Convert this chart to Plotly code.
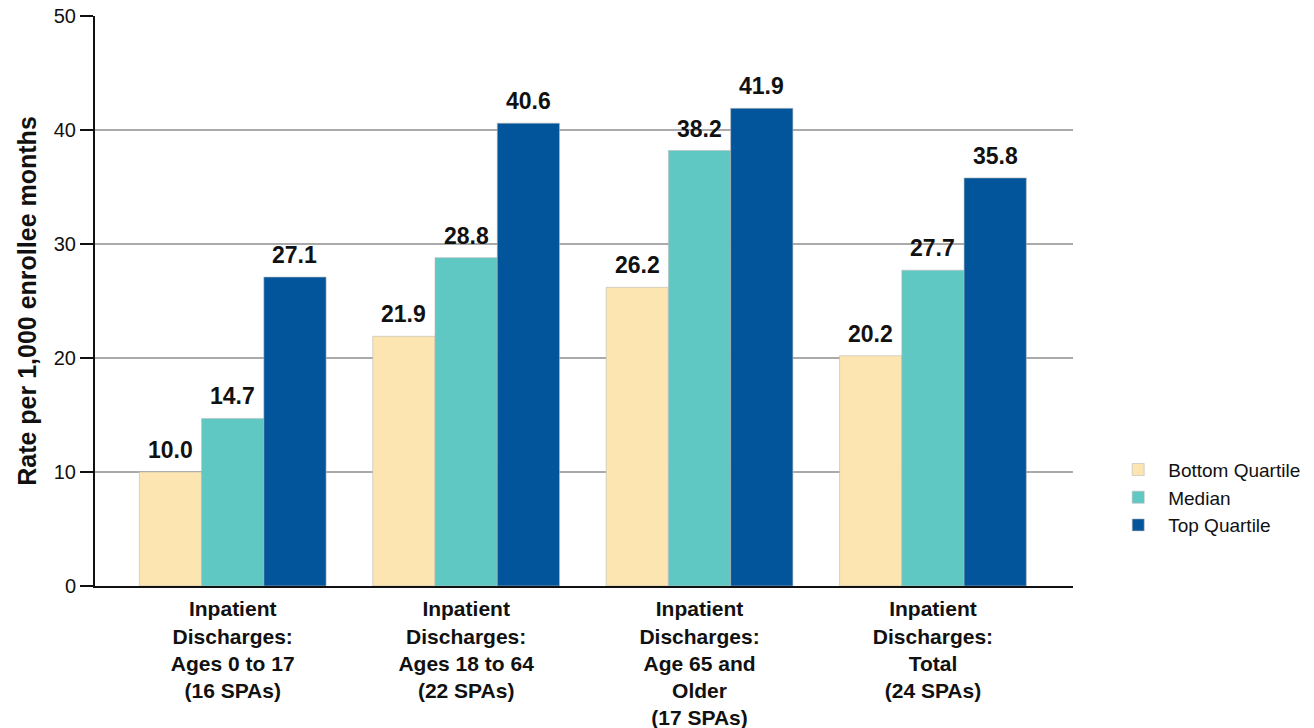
import plotly.graph_objects as go

categories = ["Inpatient<br>Discharges:<br>Ages 0 to 17<br>(16 SPAs)",
              "Inpatient<br>Discharges:<br>Ages 18 to 64<br>(22 SPAs)",
              "Inpatient<br>Discharges:<br>Age 65 and<br>Older<br>(17 SPAs)",
              "Inpatient<br>Discharges:<br>Total<br>(24 SPAs)"]
series_names = ["Bottom Quartile", "Median", "Top Quartile"]
bottom = [10.0, 21.9, 26.2, 20.2]
median = [14.7, 28.8, 38.2, 27.7]
top = [27.1, 40.6, 41.9, 35.8]
colors = ["#FCE5B0", "#5FC8C3", "#02559A"]

values = [bottom, median, top]
xpos = list(range(len(categories)))
bw = 0.8 / 3
FONT = "Liberation Sans, Arial, sans-serif"

fig = go.Figure()
annotations = []
for j, (name, vals, c) in enumerate(zip(series_names, values, colors)):
    fig.add_trace(go.Bar(
        x=xpos, y=vals, name=name,
        marker=dict(color=c, line=dict(color="#BBBBBB", width=0.6)),
    ))
    for i, v in enumerate(vals):
        annotations.append(dict(
            x=i + (j - 1) * bw, y=v, xref="x", yref="y",
            text=f"<b>{v:.1f}</b>", showarrow=False,
            yanchor="bottom", yshift=7,
            font=dict(size=23, color="#111111", family=FONT),
        ))

fig.update_layout(
    width=1314, height=728,
    margin=dict(l=95, r=241, t=16, b=142, autoexpand=False),
    paper_bgcolor="white", plot_bgcolor="white",
    barmode="group", bargap=0.2, bargroupgap=0,
    font=dict(family=FONT, color="#111111"),
    annotations=annotations,
    showlegend=True,
    legend=dict(x=1.036, y=0.155, xanchor="left", yanchor="middle",
                font=dict(size=19), itemwidth=50, tracegroupgap=0,
                traceorder="normal"),
)
fig.update_xaxes(
    range=[-0.59, 3.6], tickvals=xpos,
    ticktext=[f"<b>{c}</b>" for c in categories],
    tickfont=dict(size=21), ticks="", showline=True, linecolor="#111111",
    linewidth=2, showgrid=False, zeroline=False, ticklabelstandoff=3,
    automargin=False,
)
fig.update_yaxes(
    range=[0, 50], dtick=10, showgrid=True, gridcolor="#AAAAAA", gridwidth=1.5,
    showline=True, linecolor="#111111", linewidth=2, ticks="outside",
    ticklen=13, tickcolor="#111111", tickwidth=1.5, tickfont=dict(size=20),
    zeroline=False, automargin=False,
    title=dict(text="<b>Rate per 1,000 enrollee months</b>", font=dict(size=25), standoff=10),
)

fig.write_html("out.html", config={"displayModeBar": False},
               post_script="document.body.style.margin='0';")
